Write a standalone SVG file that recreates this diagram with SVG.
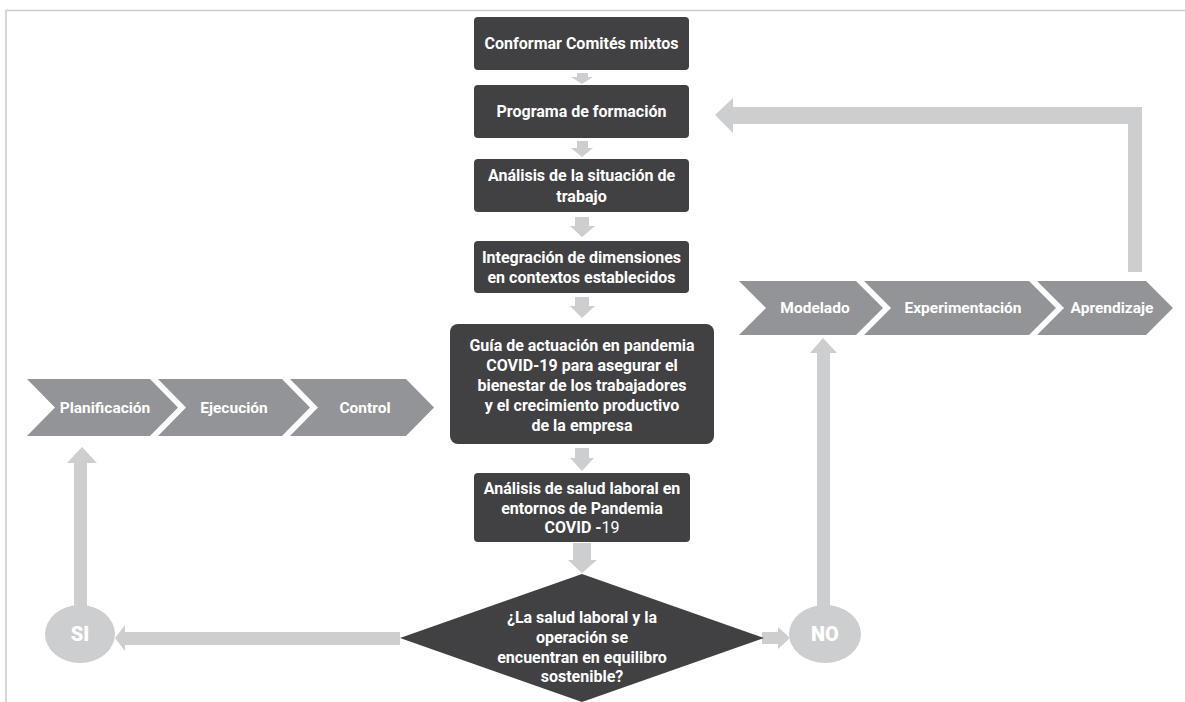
<svg xmlns="http://www.w3.org/2000/svg" width="1185" height="702" viewBox="0 0 1185 702">
<defs>
<style>
.box{fill:#414143}
.arr{fill:#cdcecf}
.chev{fill:#929497}
.t{font-family:Roboto,"Liberation Sans",sans-serif;font-weight:700;font-size:16px;fill:#ffffff;text-anchor:middle;dominant-baseline:central}
.ct{font-family:Roboto,"Liberation Sans",sans-serif;font-weight:700;font-size:15.5px;fill:#ffffff;text-anchor:middle;dominant-baseline:central}
.yn{font-family:Roboto,"Liberation Sans",sans-serif;font-weight:900;font-size:20px;fill:#ffffff;text-anchor:middle;dominant-baseline:central}
.frame{fill:none;stroke:#cccccc;stroke-width:1.5}
</style>
</defs>
<rect width="1185" height="702" fill="#ffffff"/>
<path class="frame" d="M6,702 V10.5 H1185"/>

<g id="connectors">
<polygon class="arr" points="577,73 588,73 588,77 593,77 582,84 571,77 577,77"/>
<polygon class="arr" points="577,141 588,141 588,148 593,148 582,157 571,148 577,148"/>
<polygon class="arr" points="575,217 589,217 589,226 595,226 582,237 570,226 575,226"/>
<polygon class="arr" points="575,297 589,297 589,306 595,306 582,318 570,306 575,306"/>
<polygon class="arr" points="575,448 589,448 589,458 594,458 582,471 570,458 575,458"/>
<polygon class="arr" points="573,543 591,543 591,560 597,560 582,573 568,560 573,560"/>
<polygon class="arr" points="715,115 733,98 733,107 1142,107 1142,272 1128,272 1128,124 733,124 733,133"/>
<polygon class="arr" points="82,447 97,463 87,463 87,607 74,607 74,463 67,463"/>
<polygon class="arr" points="823,338 837,353 830,353 830,607 817,607 817,353 810,353"/>
<polygon class="arr" points="115,638 125,625 125,632 400,632 400,645 125,645 125,651"/>
<polygon class="arr" points="762,632 778,632 778,627 790,638 778,649 778,644 762,644"/>
</g>

<g id="n1"><rect class="box" x="474" y="17" width="215" height="53" rx="4"/><text class="t" x="581.5" y="43.5">Conformar Comités mixtos</text></g>
<g id="n2"><rect class="box" x="474" y="85" width="215" height="53" rx="4"/><text class="t" x="581.5" y="111.5">Programa de formación</text></g>
<g id="n3"><rect class="box" x="474" y="159" width="215" height="53" rx="4"/><text class="t" x="581.5" y="175.5">Análisis de la situación de</text><text class="t" x="581.5" y="196">trabajo</text></g>
<g id="n4"><rect class="box" x="474" y="241" width="215" height="52" rx="4"/><text class="t" x="581.5" y="257">Integración de dimensiones</text><text class="t" x="581.5" y="277">en contextos establecidos</text></g>
<g id="n5"><rect class="box" x="450" y="324" width="264" height="120" rx="8"/>
<text class="t" x="582" y="345">Guía de actuación en pandemia</text>
<text class="t" x="582" y="365">COVID-19 para asegurar el</text>
<text class="t" x="582" y="385">bienestar de los trabajadores</text>
<text class="t" x="582" y="405">y el crecimiento productivo</text>
<text class="t" x="582" y="425">de la empresa</text></g>
<g id="n6"><rect class="box" x="474" y="473" width="216" height="69" rx="4"/>
<text class="t" x="582" y="488">Análisis de salud laboral en</text>
<text class="t" x="582" y="508">entornos de Pandemia</text>
<text class="t" x="582" y="527">COVID -<tspan font-weight="400">19</tspan></text></g>
<g id="decision"><polygon class="box" points="582,574 764,638 582,702 400,638"/>
<text class="t" x="582" y="617">¿La salud laboral y la</text>
<text class="t" x="582" y="637">operación se</text>
<text class="t" x="582" y="657">encuentran en equilibro</text>
<text class="t" x="582" y="676">sostenible?</text></g>
<g id="si"><ellipse class="arr" cx="80" cy="634" rx="35" ry="29"/><text class="yn" x="80" y="634">SI</text></g>
<g id="no"><ellipse class="arr" cx="825" cy="634" rx="36" ry="29"/><text class="yn" x="825" y="634">NO</text></g>

<g id="planificacion"><polygon class="chev" points="27,379 150,379 178,407.5 150,436 27,436 55,407.5"/><text class="ct" x="105" y="407.5">Planificación</text></g>
<g id="ejecucion"><polygon class="chev" points="158,379 282,379 310,407.5 282,436 158,436 186,407.5"/><text class="ct" x="234" y="407.5">Ejecución</text></g>
<g id="control"><polygon class="chev" points="290,379 406,379 434,407.5 406,436 290,436 318,407.5"/><text class="ct" x="365" y="407.5">Control</text></g>

<g id="modelado"><polygon class="chev" points="739,281 856,281 883,308 856,335 739,335 766,308"/><text class="ct" x="815" y="308">Modelado</text></g>
<g id="experimentacion"><polygon class="chev" points="864,281 1029,281 1056,308 1029,335 864,335 891,308"/><text class="ct" x="963" y="308">Experimentación</text></g>
<g id="aprendizaje"><polygon class="chev" points="1037,281 1146,281 1173,308 1146,335 1037,335 1064,308"/><text class="ct" x="1112" y="308">Aprendizaje</text></g>
</svg>
